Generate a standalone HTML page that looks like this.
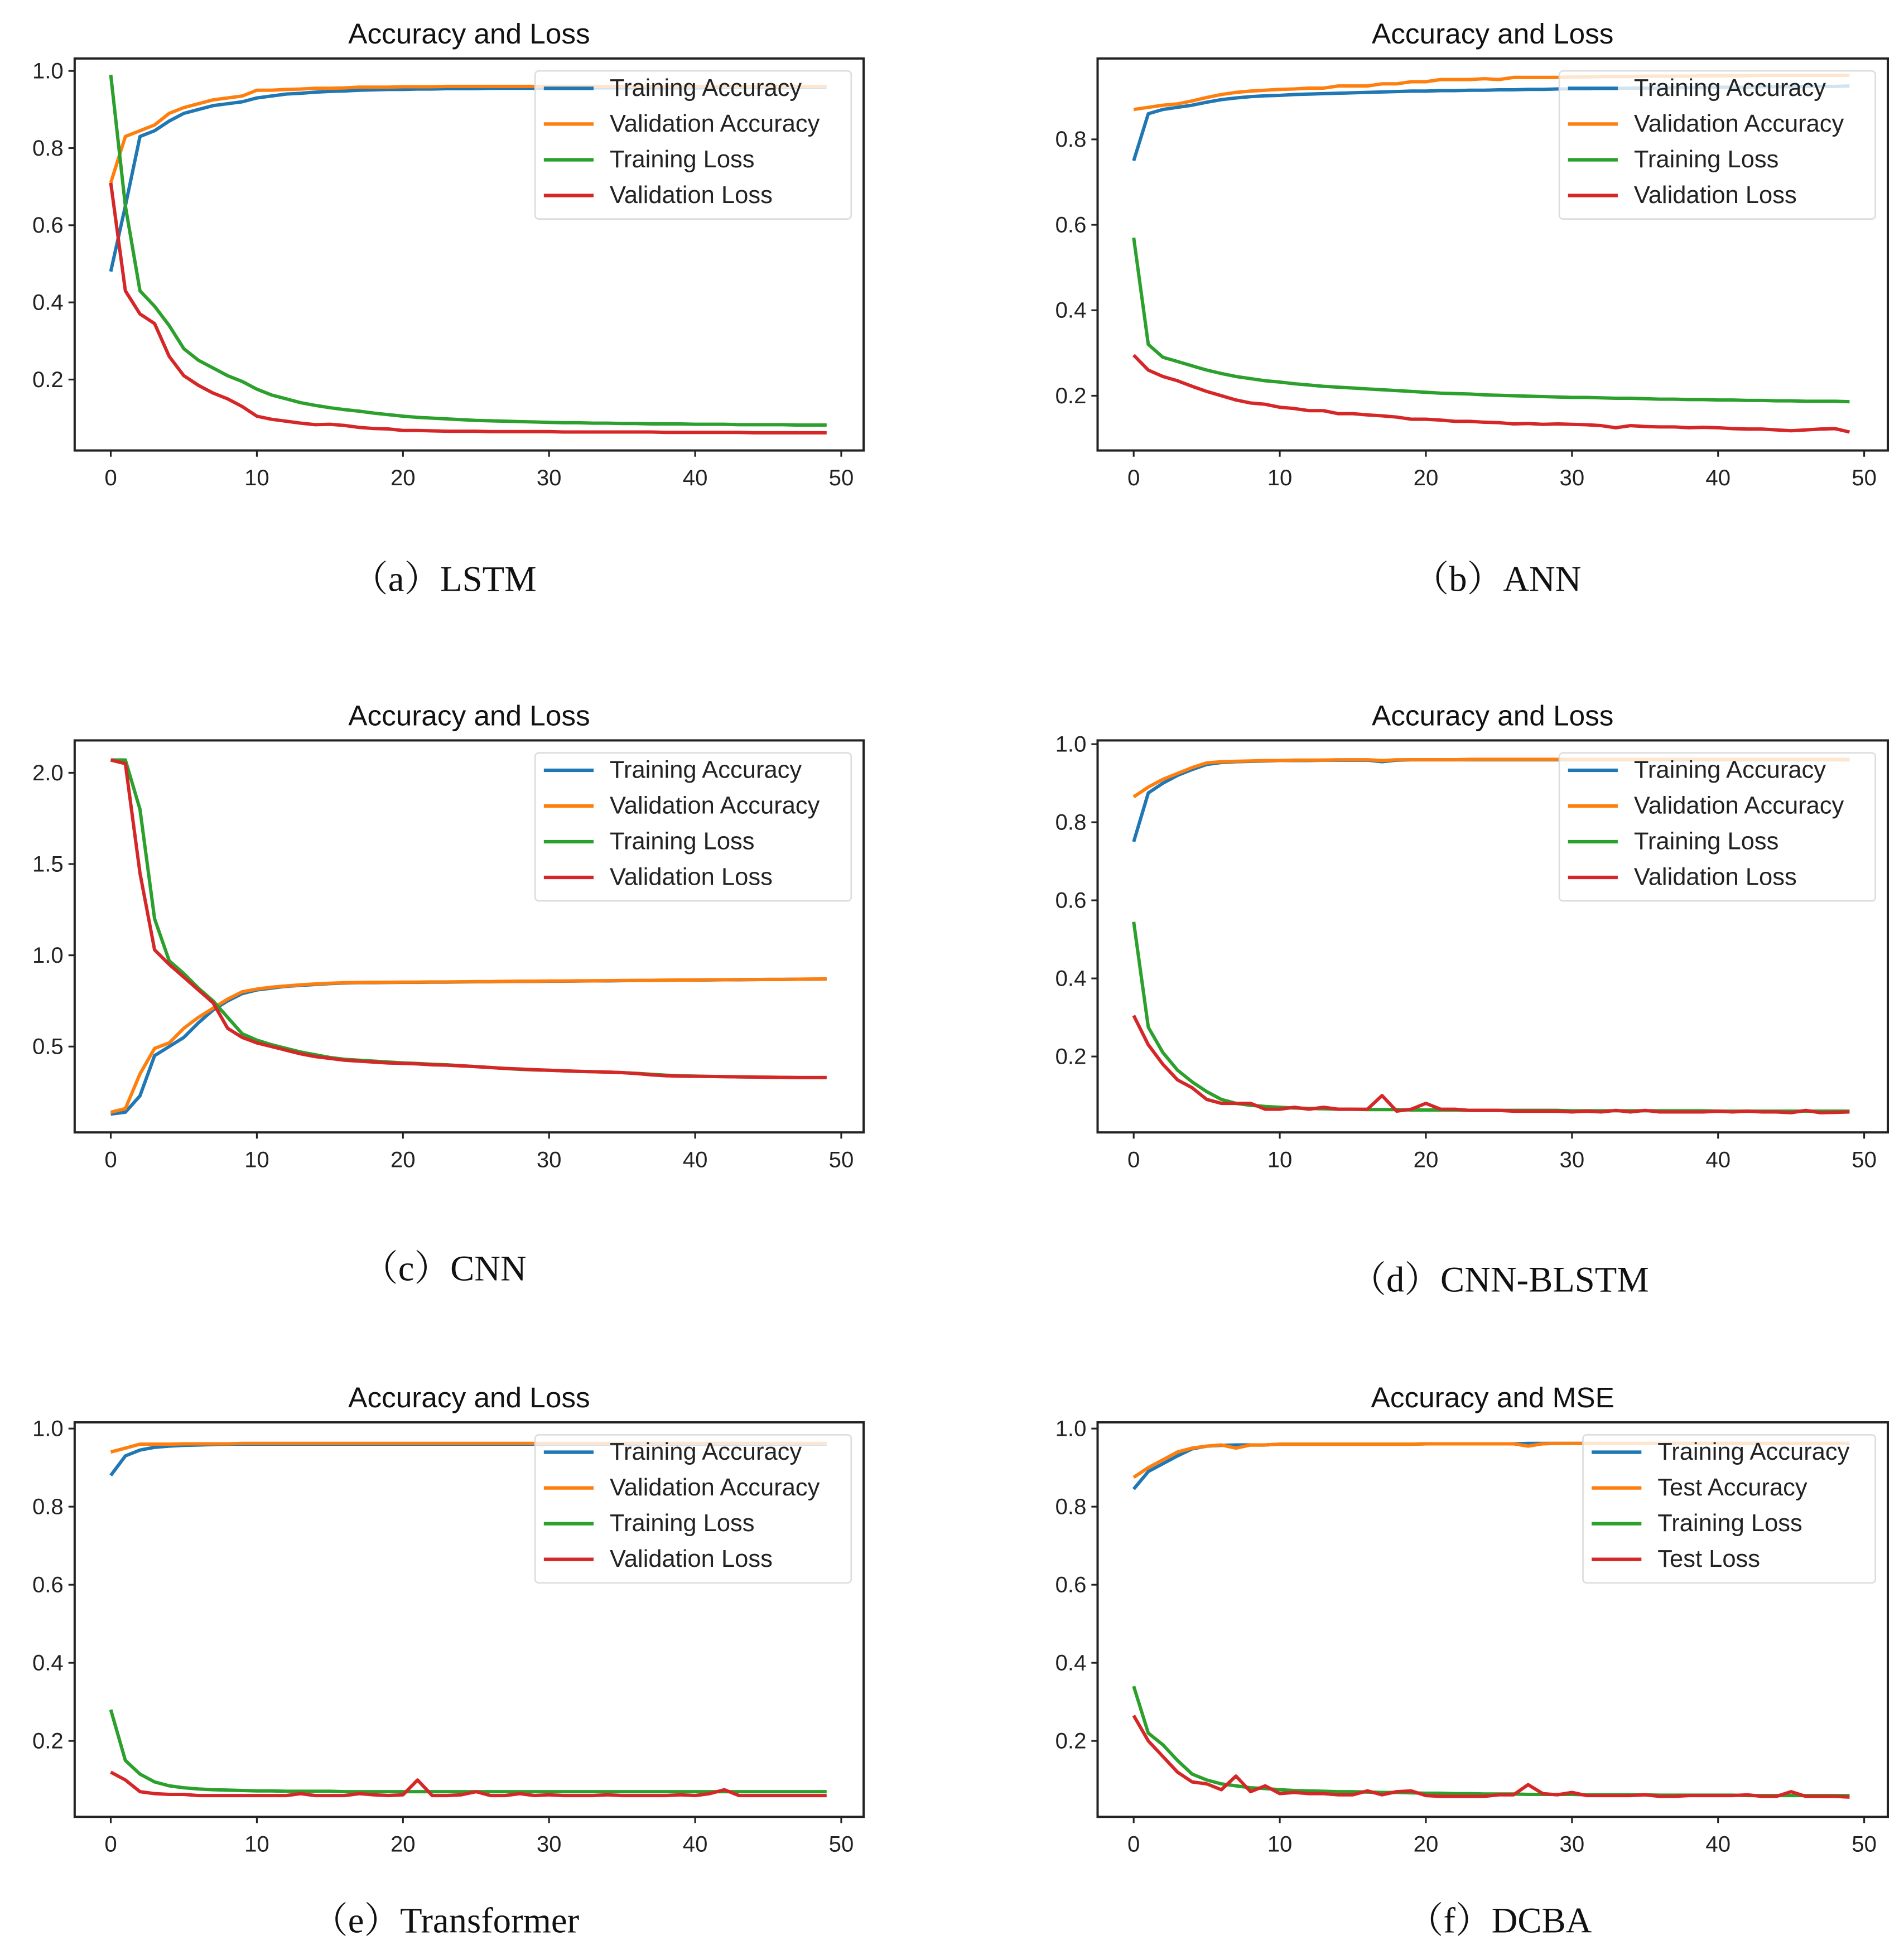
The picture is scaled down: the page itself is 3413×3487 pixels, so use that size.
<!DOCTYPE html>
<html><head><meta charset="utf-8"><style>
html,body{margin:0;padding:0;background:#fff;}
svg{display:block;}
</style></head><body>
<svg id="fig" xmlns="http://www.w3.org/2000/svg" width="3413" height="3487" viewBox="0 0 1530 1563" preserveAspectRatio="none"></svg>
<script>
const xTicks=[0,10,20,30,40,50];
const a_ta=[0.48,0.65,0.83,0.845,0.87,0.89,0.9,0.91,0.915,0.92,0.93,0.935,0.94,0.942,0.945,0.947,0.948,0.95,0.951,0.952,0.952,0.953,0.953,0.954,0.954,0.954,0.955,0.955,0.955,0.955,0.955,0.955,0.956,0.956,0.956,0.956,0.956,0.956,0.956,0.956,0.956,0.957,0.957,0.957,0.957,0.957,0.957,0.957,0.957,0.957];
const a_va=[0.71,0.83,0.845,0.86,0.89,0.905,0.915,0.925,0.93,0.935,0.95,0.95,0.952,0.953,0.955,0.955,0.956,0.958,0.958,0.958,0.959,0.959,0.959,0.96,0.96,0.96,0.96,0.96,0.96,0.96,0.96,0.96,0.96,0.96,0.96,0.96,0.96,0.96,0.96,0.96,0.96,0.96,0.96,0.96,0.96,0.96,0.96,0.96,0.96,0.96];
const a_tl=[0.99,0.65,0.43,0.39,0.34,0.28,0.25,0.23,0.21,0.195,0.175,0.16,0.15,0.14,0.133,0.127,0.122,0.118,0.113,0.109,0.105,0.102,0.1,0.098,0.096,0.094,0.093,0.092,0.091,0.09,0.089,0.088,0.088,0.087,0.087,0.086,0.086,0.085,0.085,0.085,0.084,0.084,0.084,0.083,0.083,0.083,0.083,0.082,0.082,0.082];
const a_vl=[0.71,0.43,0.37,0.345,0.26,0.21,0.185,0.165,0.15,0.13,0.105,0.097,0.092,0.087,0.083,0.084,0.081,0.076,0.073,0.072,0.068,0.068,0.067,0.066,0.066,0.066,0.065,0.065,0.065,0.065,0.065,0.064,0.064,0.064,0.064,0.064,0.064,0.064,0.063,0.063,0.063,0.063,0.063,0.063,0.062,0.062,0.062,0.062,0.062,0.062];
const b_ta=[0.75,0.86,0.87,0.875,0.88,0.887,0.893,0.897,0.9,0.902,0.903,0.905,0.906,0.907,0.908,0.909,0.91,0.911,0.912,0.913,0.913,0.914,0.914,0.915,0.915,0.916,0.916,0.917,0.917,0.918,0.918,0.918,0.919,0.919,0.92,0.92,0.92,0.921,0.921,0.921,0.922,0.922,0.922,0.923,0.923,0.923,0.924,0.924,0.924,0.925];
const b_va=[0.87,0.875,0.88,0.883,0.89,0.898,0.905,0.91,0.913,0.915,0.917,0.918,0.92,0.92,0.925,0.925,0.925,0.93,0.93,0.935,0.935,0.94,0.94,0.94,0.942,0.94,0.945,0.945,0.945,0.945,0.946,0.946,0.947,0.947,0.947,0.948,0.948,0.948,0.948,0.949,0.949,0.949,0.949,0.95,0.95,0.95,0.95,0.95,0.95,0.95];
const b_tl=[0.57,0.32,0.29,0.28,0.27,0.26,0.252,0.245,0.24,0.235,0.232,0.228,0.225,0.222,0.22,0.218,0.216,0.214,0.212,0.21,0.208,0.206,0.205,0.204,0.202,0.201,0.2,0.199,0.198,0.197,0.196,0.196,0.195,0.194,0.194,0.193,0.192,0.192,0.191,0.191,0.19,0.19,0.189,0.189,0.188,0.188,0.187,0.187,0.187,0.186];
const b_vl=[0.295,0.26,0.245,0.235,0.222,0.21,0.2,0.19,0.183,0.18,0.173,0.17,0.165,0.165,0.158,0.158,0.155,0.153,0.15,0.145,0.145,0.143,0.14,0.14,0.138,0.137,0.134,0.135,0.133,0.134,0.133,0.132,0.13,0.125,0.13,0.128,0.127,0.127,0.125,0.126,0.125,0.123,0.122,0.122,0.12,0.118,0.12,0.122,0.123,0.115];
const c_ta=[0.13,0.14,0.23,0.45,0.5,0.55,0.63,0.7,0.75,0.79,0.81,0.82,0.83,0.835,0.84,0.845,0.848,0.85,0.85,0.851,0.852,0.852,0.853,0.853,0.854,0.855,0.855,0.856,0.857,0.857,0.858,0.858,0.859,0.86,0.86,0.861,0.862,0.862,0.863,0.864,0.864,0.865,0.866,0.866,0.867,0.868,0.868,0.869,0.869,0.87];
const c_va=[0.14,0.16,0.35,0.49,0.52,0.6,0.66,0.71,0.76,0.8,0.815,0.825,0.832,0.838,0.843,0.847,0.85,0.851,0.852,0.852,0.853,0.853,0.854,0.854,0.855,0.856,0.856,0.857,0.858,0.858,0.859,0.859,0.86,0.86,0.861,0.862,0.862,0.863,0.864,0.864,0.865,0.866,0.866,0.867,0.867,0.868,0.868,0.869,0.87,0.87];
const c_tl=[2.07,2.07,1.8,1.2,0.97,0.9,0.82,0.75,0.66,0.57,0.535,0.51,0.49,0.47,0.455,0.44,0.43,0.425,0.42,0.415,0.41,0.407,0.403,0.4,0.395,0.39,0.385,0.38,0.375,0.372,0.37,0.367,0.364,0.362,0.36,0.357,0.353,0.348,0.343,0.34,0.338,0.336,0.335,0.334,0.333,0.332,0.331,0.33,0.33,0.33];
const c_vl=[2.07,2.05,1.45,1.03,0.95,0.88,0.81,0.74,0.6,0.55,0.52,0.5,0.48,0.46,0.445,0.435,0.425,0.42,0.415,0.41,0.408,0.405,0.4,0.398,0.394,0.39,0.385,0.38,0.377,0.373,0.37,0.367,0.364,0.362,0.36,0.357,0.352,0.345,0.34,0.338,0.337,0.336,0.335,0.334,0.333,0.332,0.331,0.33,0.33,0.33];
const d_ta=[0.75,0.875,0.9,0.92,0.935,0.948,0.953,0.955,0.956,0.957,0.958,0.958,0.958,0.959,0.959,0.959,0.959,0.955,0.959,0.96,0.96,0.96,0.96,0.96,0.96,0.96,0.96,0.96,0.96,0.96,0.96,0.96,0.96,0.96,0.96,0.96,0.96,0.96,0.96,0.96,0.96,0.96,0.96,0.96,0.96,0.96,0.96,0.96,0.96,0.96];
const d_va=[0.865,0.89,0.91,0.925,0.94,0.952,0.955,0.956,0.957,0.958,0.958,0.959,0.959,0.959,0.96,0.96,0.96,0.958,0.96,0.96,0.96,0.96,0.96,0.961,0.961,0.961,0.961,0.961,0.961,0.961,0.961,0.961,0.961,0.961,0.961,0.961,0.961,0.961,0.961,0.961,0.961,0.961,0.961,0.961,0.961,0.961,0.961,0.961,0.961,0.961];
const d_tl=[0.545,0.275,0.21,0.165,0.135,0.11,0.09,0.08,0.075,0.072,0.07,0.068,0.067,0.066,0.065,0.065,0.064,0.064,0.064,0.063,0.063,0.063,0.063,0.062,0.062,0.062,0.062,0.062,0.062,0.062,0.061,0.061,0.061,0.061,0.061,0.061,0.061,0.061,0.061,0.061,0.06,0.06,0.06,0.06,0.06,0.06,0.06,0.06,0.06,0.06];
const d_vl=[0.305,0.23,0.18,0.14,0.12,0.09,0.08,0.08,0.08,0.065,0.065,0.07,0.065,0.07,0.065,0.065,0.065,0.1,0.06,0.065,0.08,0.065,0.065,0.062,0.062,0.062,0.06,0.06,0.06,0.06,0.058,0.06,0.058,0.062,0.058,0.062,0.058,0.058,0.058,0.058,0.06,0.058,0.06,0.058,0.058,0.056,0.062,0.056,0.057,0.058];
const e_ta=[0.88,0.93,0.945,0.952,0.955,0.957,0.958,0.959,0.96,0.96,0.96,0.96,0.96,0.96,0.96,0.96,0.96,0.96,0.96,0.96,0.96,0.96,0.96,0.96,0.96,0.96,0.96,0.96,0.96,0.96,0.96,0.96,0.96,0.96,0.96,0.96,0.96,0.96,0.96,0.96,0.96,0.96,0.96,0.96,0.96,0.96,0.96,0.96,0.96,0.96];
const e_va=[0.94,0.95,0.96,0.96,0.96,0.961,0.961,0.961,0.961,0.962,0.962,0.962,0.962,0.962,0.962,0.962,0.962,0.962,0.962,0.962,0.962,0.962,0.962,0.962,0.962,0.962,0.962,0.962,0.962,0.962,0.962,0.962,0.962,0.962,0.962,0.962,0.962,0.962,0.962,0.962,0.962,0.962,0.962,0.962,0.962,0.962,0.962,0.962,0.962,0.962];
const e_tl=[0.28,0.15,0.115,0.095,0.085,0.08,0.077,0.075,0.074,0.073,0.072,0.072,0.071,0.071,0.071,0.071,0.07,0.07,0.07,0.07,0.07,0.07,0.07,0.07,0.07,0.07,0.07,0.07,0.07,0.07,0.07,0.07,0.07,0.07,0.07,0.07,0.07,0.07,0.07,0.07,0.07,0.07,0.07,0.07,0.07,0.07,0.07,0.07,0.07,0.07];
const e_vl=[0.12,0.1,0.07,0.065,0.063,0.063,0.06,0.06,0.06,0.06,0.06,0.06,0.06,0.065,0.06,0.06,0.06,0.065,0.062,0.06,0.062,0.1,0.06,0.06,0.062,0.07,0.06,0.06,0.065,0.06,0.062,0.06,0.06,0.06,0.062,0.06,0.06,0.06,0.06,0.062,0.06,0.065,0.075,0.06,0.06,0.06,0.06,0.06,0.06,0.06];
const f_ta=[0.845,0.89,0.91,0.93,0.948,0.955,0.957,0.958,0.958,0.958,0.96,0.96,0.96,0.96,0.96,0.96,0.96,0.96,0.96,0.96,0.961,0.961,0.961,0.961,0.961,0.961,0.961,0.962,0.962,0.962,0.962,0.962,0.962,0.962,0.962,0.962,0.962,0.962,0.962,0.962,0.962,0.962,0.962,0.962,0.962,0.962,0.962,0.962,0.962,0.962];
const f_va=[0.875,0.9,0.92,0.94,0.95,0.955,0.958,0.95,0.958,0.958,0.96,0.96,0.96,0.96,0.96,0.96,0.96,0.96,0.96,0.96,0.961,0.961,0.961,0.961,0.961,0.961,0.961,0.955,0.961,0.962,0.962,0.962,0.962,0.962,0.962,0.962,0.962,0.962,0.962,0.962,0.962,0.962,0.962,0.962,0.962,0.962,0.962,0.962,0.962,0.962];
const f_tl=[0.34,0.22,0.19,0.15,0.115,0.1,0.09,0.085,0.08,0.078,0.075,0.073,0.072,0.071,0.07,0.07,0.069,0.068,0.068,0.067,0.066,0.066,0.065,0.065,0.064,0.064,0.064,0.063,0.063,0.063,0.063,0.062,0.062,0.062,0.062,0.062,0.061,0.061,0.061,0.061,0.061,0.061,0.06,0.06,0.06,0.06,0.06,0.06,0.06,0.06];
const f_vl=[0.265,0.2,0.16,0.12,0.095,0.09,0.075,0.11,0.07,0.085,0.065,0.068,0.065,0.065,0.062,0.062,0.072,0.062,0.07,0.072,0.06,0.058,0.058,0.058,0.058,0.062,0.062,0.088,0.065,0.062,0.068,0.06,0.06,0.06,0.06,0.062,0.058,0.058,0.06,0.06,0.06,0.06,0.062,0.058,0.058,0.07,0.058,0.058,0.058,0.056];
const accLoss=["Training Accuracy","Validation Accuracy","Training Loss","Validation Loss"];
const accMse=["Training Accuracy","Test Accuracy","Training Loss","Test Loss"];
const ticks01=[0.2,0.4,0.6,0.8,1.0];
const ticksB=[0.2,0.4,0.6,0.8];
const ticksC=[0.5,1.0,1.5,2.0];
const colors=["#1f77b4","#ff7f0e","#2ca02c","#d62728"];
const NS="http://www.w3.org/2000/svg";
const svg=document.getElementById('fig');
function el(tag,attrs,parent){const e=document.createElementNS(NS,tag);for(const k in attrs)e.setAttribute(k,attrs[k]);(parent||svg).appendChild(e);return e;}
function panel(p){
  const g=el('g',{});
  
  
  const xs=v=>p.x0+(v-0)*(p.x50-p.x0)/50;
  const ys=v=>p.yb+(v-p.vb)*(p.yt-p.yb)/(p.vt-p.vb);
  const t=el('text',{x:(p.L+p.R)/2,y:p.T-12,'text-anchor':'middle','font-size':23,'font-family':'Liberation Sans, sans-serif',fill:'#111'},g);
  t.textContent=p.title;
  
  
  const clip=el('clipPath',{id:'c'+p.id},g);el('rect',{x:p.L,y:p.T,width:p.R-p.L,height:p.B-p.T},clip);
  const lg=el('g',{'clip-path':'url(#c'+p.id+')'},g);
  p.series.forEach((s,i)=>{
    const d=s.map((v,k)=>(k?'L':'M')+xs(k).toFixed(2)+','+ys(v).toFixed(2)).join(' ');
    const pa=el('path',{d:d,fill:'none',stroke:colors[i],'stroke-width':2.7,'stroke-linejoin':'round'},lg);
    
    
  });
  el('rect',{x:p.L,y:p.T,width:p.R-p.L,height:p.B-p.T,fill:'none',stroke:'#222','stroke-width':1.8},g);
  xTicks.forEach(v=>{
    el('line',{x1:xs(v),x2:xs(v),y1:p.B,y2:p.B+5,stroke:'#222','stroke-width':1.4},g);
    const tx=el('text',{x:xs(v),y:p.B+28,'text-anchor':'middle','font-size':18,'font-family':'Liberation Sans, sans-serif',fill:'#222'},g);
    tx.textContent=v;
    
    
  });
  p.yTicks.forEach(v=>{
    el('line',{x1:p.L-5,x2:p.L,y1:ys(v),y2:ys(v),stroke:'#222','stroke-width':1.4},g);
    const ty=el('text',{x:p.L-9,y:ys(v)+6,'text-anchor':'end','font-size':18,'font-family':'Liberation Sans, sans-serif',fill:'#222'},g);
    ty.textContent=v.toFixed(1);
    
    
  });
  const leg=el('g',{},g);
  
  
  el('rect',{x:p.lx,y:p.T+10,width:p.R-10-p.lx,height:119,rx:3,fill:'#fff','fill-opacity':0.8,stroke:'#ddd','stroke-width':1.2},leg);
  p.labels.forEach((lab,i)=>{
    const yy=p.T+24+i*28.7;
    el('line',{x1:p.lx+7,x2:p.lx+47,y1:yy,y2:yy,stroke:colors[i],'stroke-width':2.8},leg);
    const lt=el('text',{x:p.lx+60,y:yy+6,'font-size':19.5,'font-family':'Liberation Sans, sans-serif',fill:'#222'},leg);
    lt.textContent=lab;
    
    
  });
  const cap=el('text',{x:p.cx,y:p.cy,'text-anchor':'middle','font-size':29,'font-family':'Liberation Serif, Noto Serif CJK SC, serif',fill:'#111'},g);
  cap.textContent=p.caption;
  
  
}
const LX={L:60,R:694,x0:89,x50:676};
const RX={L:882,R:1517,x0:911,x50:1498};
panel(Object.assign({id:'lstm',title:'Accuracy and Loss',T:47,B:362,yt:57,vt:1.0,yb:305,vb:0.2,yTicks:ticks01,series:[a_ta,a_va,a_tl,a_vl],labels:accLoss,lx:430,caption:'（a）LSTM',cx:357,cy:475},LX));
panel(Object.assign({id:'ann',title:'Accuracy and Loss',T:47,B:362,yt:112,vt:0.8,yb:318,vb:0.2,yTicks:ticksB,series:[b_ta,b_va,b_tl,b_vl],labels:accLoss,lx:1253,caption:'（b）ANN',cx:1203,cy:475},RX));
panel(Object.assign({id:'cnn',title:'Accuracy and Loss',T:595,B:910,yt:621,vt:2.0,yb:841,vb:0.5,yTicks:ticksC,series:[c_ta,c_va,c_tl,c_vl],labels:accLoss,lx:430,caption:'（c）CNN',cx:357,cy:1029},LX));
panel(Object.assign({id:'cnn-blstm',title:'Accuracy and Loss',T:595,B:910,yt:598,vt:1.0,yb:849,vb:0.2,yTicks:ticks01,series:[d_ta,d_va,d_tl,d_vl],labels:accLoss,lx:1253,caption:'（d）CNN-BLSTM',cx:1205,cy:1038},RX));
panel(Object.assign({id:'transformer',title:'Accuracy and Loss',T:1143,B:1460,yt:1148,vt:1.0,yb:1399,vb:0.2,yTicks:ticks01,series:[e_ta,e_va,e_tl,e_vl],labels:accLoss,lx:430,caption:'（e）Transformer',cx:358,cy:1553},LX));
panel(Object.assign({id:'dcba',title:'Accuracy and MSE',T:1143,B:1460,yt:1148,vt:1.0,yb:1399,vb:0.2,yTicks:ticks01,series:[f_ta,f_va,f_tl,f_vl],labels:accMse,lx:1272,caption:'（f）DCBA',cx:1205,cy:1553},RX));
</script>
</body></html>
